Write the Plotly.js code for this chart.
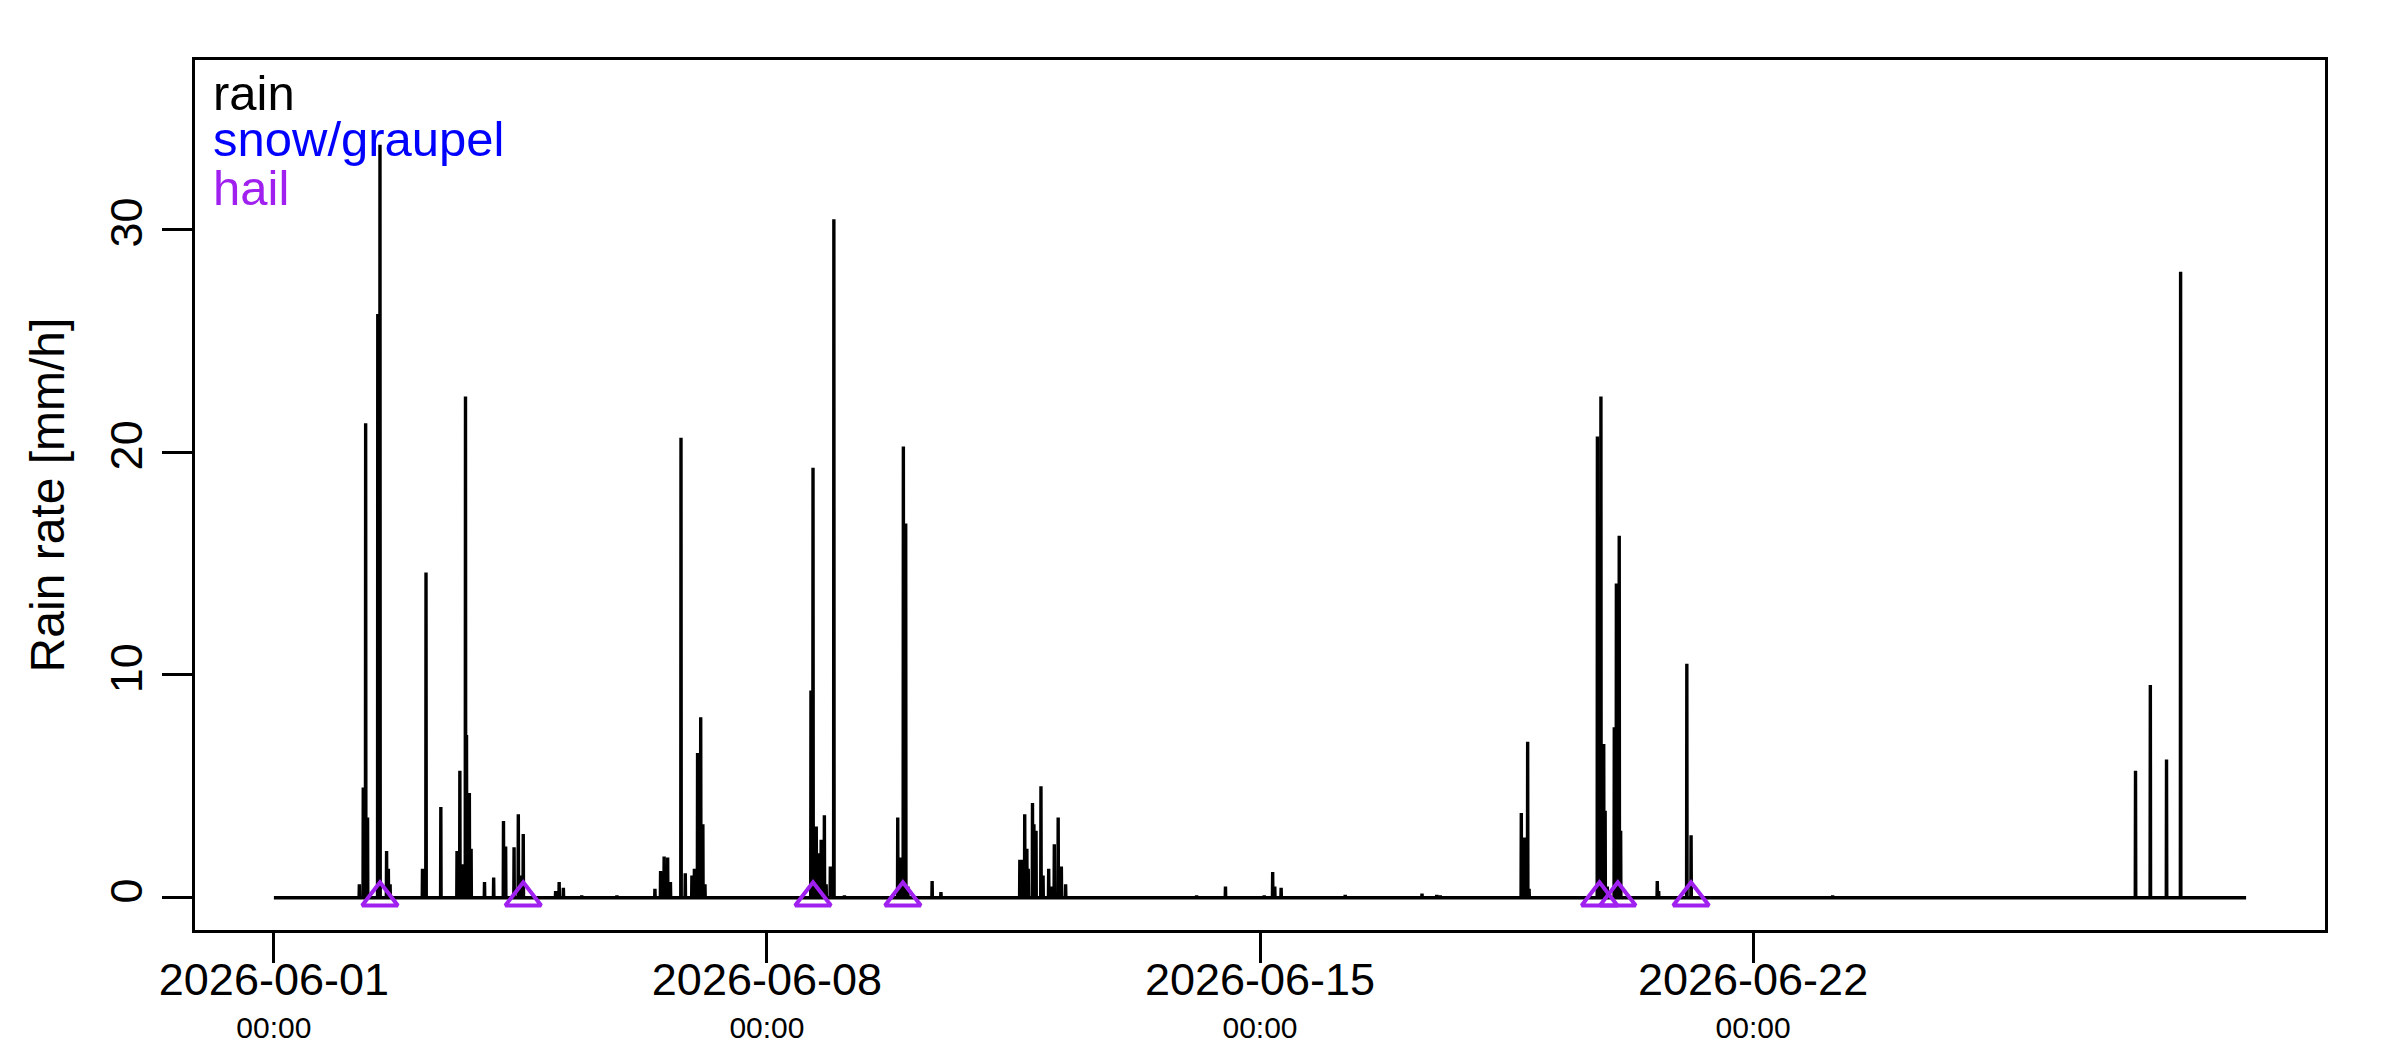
<!DOCTYPE html>
<html>
<head>
<meta charset="utf-8">
<script src="https://cdn.plot.ly/plotly-3.0.1.min.js"></script>
<style>
html,body{margin:0;padding:0;background:#fff;}
#chart{width:2400px;height:1050px;}
</style>
</head>
<body>
<div id="chart"></div>
<script>
// ---- data ----
const rainTime = [
 "2026-06-01 00:00",
 "2026-06-02 05:02","2026-06-02 05:07","2026-06-02 05:12",
 "2026-06-02 06:22","2026-06-02 06:27","2026-06-02 06:32",
 "2026-06-02 07:11","2026-06-02 07:16","2026-06-02 07:21",
 "2026-06-02 07:50","2026-06-02 07:55","2026-06-02 08:00",
 "2026-06-02 11:19","2026-06-02 11:24","2026-06-02 11:29",
 "2026-06-02 12:04","2026-06-02 12:09","2026-06-02 12:14",
 "2026-06-02 14:19","2026-06-02 14:24","2026-06-02 14:29",
 "2026-06-02 14:55","2026-06-02 15:00","2026-06-02 15:05",
 "2026-06-02 15:31","2026-06-02 15:36","2026-06-02 15:41",
 "2026-06-03 02:33","2026-06-03 02:38","2026-06-03 02:43",
 "2026-06-03 03:45","2026-06-03 03:50","2026-06-03 03:55",
 "2026-06-03 08:48","2026-06-03 08:53","2026-06-03 08:58",
 "2026-06-03 14:19","2026-06-03 14:24","2026-06-03 14:29",
 "2026-06-03 15:17","2026-06-03 15:22","2026-06-03 15:27",
 "2026-06-03 16:07","2026-06-03 16:12","2026-06-03 16:17",
 "2026-06-03 17:12","2026-06-03 17:17","2026-06-03 17:22",
 "2026-06-03 17:33","2026-06-03 17:38","2026-06-03 17:43",
 "2026-06-03 18:31","2026-06-03 18:36","2026-06-03 18:41",
 "2026-06-03 19:07","2026-06-03 19:12","2026-06-03 19:17",
 "2026-06-03 23:41","2026-06-03 23:46","2026-06-03 23:51",
 "2026-06-04 02:48","2026-06-04 02:53","2026-06-04 02:58",
 "2026-06-04 06:09","2026-06-04 06:14","2026-06-04 06:19",
 "2026-06-04 06:53","2026-06-04 06:58","2026-06-04 07:03",
 "2026-06-04 09:45","2026-06-04 09:50","2026-06-04 09:55",
 "2026-06-04 11:12","2026-06-04 11:17","2026-06-04 11:22",
 "2026-06-04 11:55","2026-06-04 12:00","2026-06-04 12:05",
 "2026-06-04 12:53","2026-06-04 12:58","2026-06-04 13:03",
 "2026-06-04 23:55","2026-06-05 00:00","2026-06-05 00:05",
 "2026-06-05 01:07","2026-06-05 01:12","2026-06-05 01:17",
 "2026-06-05 02:33","2026-06-05 02:38","2026-06-05 02:43",
 "2026-06-05 08:48","2026-06-05 08:53","2026-06-05 08:58",
 "2026-06-05 20:48","2026-06-05 20:53","2026-06-05 20:58",
 "2026-06-06 09:45","2026-06-06 09:50","2026-06-06 09:55",
 "2026-06-06 11:41","2026-06-06 11:46","2026-06-06 11:51",
 "2026-06-06 12:53","2026-06-06 12:58","2026-06-06 13:03",
 "2026-06-06 14:05","2026-06-06 14:10","2026-06-06 14:15",
 "2026-06-06 15:02","2026-06-06 15:07","2026-06-06 15:12",
 "2026-06-06 18:38","2026-06-06 18:43","2026-06-06 18:48",
 "2026-06-06 20:05","2026-06-06 20:10","2026-06-06 20:15",
 "2026-06-06 22:21","2026-06-06 22:26","2026-06-06 22:31",
 "2026-06-06 23:12","2026-06-06 23:17","2026-06-06 23:22",
 "2026-06-07 00:17","2026-06-07 00:22","2026-06-07 00:27",
 "2026-06-07 01:21","2026-06-07 01:26","2026-06-07 01:31",
 "2026-06-07 02:05","2026-06-07 02:10","2026-06-07 02:15",
 "2026-06-07 02:48","2026-06-07 02:53","2026-06-07 02:58",
 "2026-06-08 14:55","2026-06-08 15:00","2026-06-08 15:05",
 "2026-06-08 15:37","2026-06-08 15:42","2026-06-08 15:47",
 "2026-06-08 16:14","2026-06-08 16:19","2026-06-08 16:24",
 "2026-06-08 16:43","2026-06-08 16:48","2026-06-08 16:53",
 "2026-06-08 17:33","2026-06-08 17:38","2026-06-08 17:43",
 "2026-06-08 18:24","2026-06-08 18:29","2026-06-08 18:34",
 "2026-06-08 19:29","2026-06-08 19:34","2026-06-08 19:39",
 "2026-06-08 20:05","2026-06-08 20:10","2026-06-08 20:15",
 "2026-06-08 21:31","2026-06-08 21:36","2026-06-08 21:41",
 "2026-06-08 22:43","2026-06-08 22:48","2026-06-08 22:53",
 "2026-06-09 02:19","2026-06-09 02:24","2026-06-09 02:29",
 "2026-06-09 20:29","2026-06-09 20:34","2026-06-09 20:39",
 "2026-06-09 21:24","2026-06-09 21:29","2026-06-09 21:34",
 "2026-06-09 22:24","2026-06-09 22:29","2026-06-09 22:34",
 "2026-06-09 23:12","2026-06-09 23:17","2026-06-09 23:22",
 "2026-06-09 23:55","2026-06-10 00:00","2026-06-10 00:05",
 "2026-06-10 08:12","2026-06-10 08:17","2026-06-10 08:22",
 "2026-06-10 11:12","2026-06-10 11:17","2026-06-10 11:22",
 "2026-06-11 14:05","2026-06-11 14:10","2026-06-11 14:15",
 "2026-06-11 14:48","2026-06-11 14:53","2026-06-11 14:58",
 "2026-06-11 15:45","2026-06-11 15:50","2026-06-11 15:55",
 "2026-06-11 16:29","2026-06-11 16:34","2026-06-11 16:39",
 "2026-06-11 16:57","2026-06-11 17:02","2026-06-11 17:07",
 "2026-06-11 18:24","2026-06-11 18:29","2026-06-11 18:34",
 "2026-06-11 18:53","2026-06-11 18:58","2026-06-11 19:03",
 "2026-06-11 19:36","2026-06-11 19:41","2026-06-11 19:46",
 "2026-06-11 21:17","2026-06-11 21:22","2026-06-11 21:27",
 "2026-06-11 22:00","2026-06-11 22:05","2026-06-11 22:10",
 "2026-06-11 23:55","2026-06-12 00:00","2026-06-12 00:05",
 "2026-06-12 00:38","2026-06-12 00:43","2026-06-12 00:48",
 "2026-06-12 01:50","2026-06-12 01:55","2026-06-12 02:00",
 "2026-06-12 03:09","2026-06-12 03:14","2026-06-12 03:19",
 "2026-06-12 04:14","2026-06-12 04:19","2026-06-12 04:24",
 "2026-06-12 05:41","2026-06-12 05:46","2026-06-12 05:51",
 "2026-06-14 02:19","2026-06-14 02:24","2026-06-14 02:29",
 "2026-06-14 12:09","2026-06-14 12:14","2026-06-14 12:19",
 "2026-06-15 01:21","2026-06-15 01:26","2026-06-15 01:31",
 "2026-06-15 04:14","2026-06-15 04:19","2026-06-15 04:24",
 "2026-06-15 04:57","2026-06-15 05:02","2026-06-15 05:07",
 "2026-06-15 07:07","2026-06-15 07:12","2026-06-15 07:17",
 "2026-06-16 04:57","2026-06-16 05:02","2026-06-16 05:07",
 "2026-06-17 07:07","2026-06-17 07:12","2026-06-17 07:17",
 "2026-06-17 12:09","2026-06-17 12:14","2026-06-17 12:19",
 "2026-06-17 13:21","2026-06-17 13:26","2026-06-17 13:31",
 "2026-06-18 16:57","2026-06-18 17:02","2026-06-18 17:07",
 "2026-06-18 17:55","2026-06-18 18:00","2026-06-18 18:05",
 "2026-06-18 19:07","2026-06-18 19:12","2026-06-18 19:17",
 "2026-06-18 19:36","2026-06-18 19:41","2026-06-18 19:46",
 "2026-06-19 18:53","2026-06-19 18:58","2026-06-19 19:03",
 "2026-06-19 20:05","2026-06-19 20:10","2026-06-19 20:15",
 "2026-06-19 21:02","2026-06-19 21:07","2026-06-19 21:12",
 "2026-06-19 21:31","2026-06-19 21:36","2026-06-19 21:41",
 "2026-06-19 22:14","2026-06-19 22:19","2026-06-19 22:24",
 "2026-06-20 00:38","2026-06-20 00:43","2026-06-20 00:48",
 "2026-06-20 01:21","2026-06-20 01:26","2026-06-20 01:31",
 "2026-06-20 02:19","2026-06-20 02:24","2026-06-20 02:29",
 "2026-06-20 02:48","2026-06-20 02:53","2026-06-20 02:58",
 "2026-06-20 15:17","2026-06-20 15:22","2026-06-20 15:27",
 "2026-06-20 15:45","2026-06-20 15:50","2026-06-20 15:55",
 "2026-06-21 01:21","2026-06-21 01:26","2026-06-21 01:31",
 "2026-06-21 02:48","2026-06-21 02:53","2026-06-21 02:58",
 "2026-06-23 03:02","2026-06-23 03:07","2026-06-23 03:12",
 "2026-06-27 10:14","2026-06-27 10:19","2026-06-27 10:24",
 "2026-06-27 15:17","2026-06-27 15:22","2026-06-27 15:27",
 "2026-06-27 20:48","2026-06-27 20:53","2026-06-27 20:58",
 "2026-06-28 01:36","2026-06-28 01:41","2026-06-28 01:46",
 "2026-06-29 00:00"
];
const rainRate = [
 0,
 0,0.6,0,
 0,4.95,0,
 0,21.3,0,
 0,3.6,0,
 0,26.2,0,
 0,33.8,0,
 0,2.1,0,
 0,1.3,0,
 0,0.6,0,
 0,1.3,0,
 0,14.6,0,
 0,4.07,0,
 0,2.1,0,
 0,5.7,0,
 0,1.5,0,
 0,22.5,0,
 0,7.3,0,
 0,4.7,0,
 0,2.2,0,
 0,0.7,0,
 0,0.9,0,
 0,3.44,0,
 0,2.3,0,
 0,2.26,0,
 0,3.75,0,
 0,1.0,0,
 0,2.86,0,
 0,0.3,0,
 0,0.7,0,
 0,0.45,0,
 0,0.1,0,
 0,0.1,0,
 0,0.4,0,
 0,1.2,0,
 0,1.85,0,
 0,1.8,0,
 0,0.7,0,
 0,20.65,0,
 0,1.1,0,
 0,1.0,0,
 0,1.3,0,
 0,6.5,0,
 0,8.1,0,
 0,3.3,0,
 0,0.6,0,
 0,9.3,0,
 0,19.3,0,
 0,3.0,0,
 0,3.2,0,
 0,2.0,0,
 0,2.6,0,
 0,3.7,0,
 0,0.6,0,
 0,1.4,0,
 0,30.45,0,
 0,0.1,0,
 0,3.6,0,
 0,1.8,0,
 0,20.25,0,
 0,16.8,0,
 0,0.5,0,
 0,0.75,0,
 0,0.25,0,
 0,1.7,0,
 0,1.7,0,
 0,3.75,0,
 0,2.2,0,
 0,1.3,0,
 0,4.25,0,
 0,3.3,0,
 0,3.0,0,
 0,5.0,0,
 0,1.0,0,
 0,1.3,0,
 0,0.5,0,
 0,2.4,0,
 0,3.6,0,
 0,1.4,0,
 0,0.6,0,
 0,0.1,0,
 0,0.5,0,
 0,0.1,0,
 0,1.15,0,
 0,0.5,0,
 0,0.45,0,
 0,0.12,0,
 0,0.18,0,
 0,0.12,0,
 0,0.1,0,
 0,3.8,0,
 0,2.7,0,
 0,7.0,0,
 0,0.4,0,
 0,20.7,0,
 0,22.5,0,
 0,6.9,0,
 0,3.9,0,
 0,0.5,0,
 0,7.65,0,
 0,14.1,0,
 0,16.25,0,
 0,3.0,0,
 0,0.75,0,
 0,0.3,0,
 0,10.5,0,
 0,2.8,0,
 0,0.1,0,
 0,5.7,0,
 0,9.55,0,
 0,6.2,0,
 0,28.1,0,
 0
];
const hailTime = [
 "2026-06-02 12:09","2026-06-04 12:58","2026-06-08 15:42","2026-06-09 22:19",
 "2026-06-19 19:41","2026-06-20 01:55","2026-06-21 02:53"
];
const hailRate = [0,0,0,0,0,0,0];

const xTickVals = ["2026-06-01 00:00","2026-06-08 00:00","2026-06-15 00:00","2026-06-22 00:00"];
const xTickDates = ["2026-06-01","2026-06-08","2026-06-15","2026-06-22"];
const xTickTimes = ["00:00","00:00","00:00","00:00"];
const yTickVals = [0,10,20,30];
const xRange = ["2026-05-30 21:07:12","2026-06-30 02:52:48"];
const yRange = [-1.45,37.6];
const legendLabels = ["rain","snow/graupel","hail"];
const legendColors = ["#000000","#0000FF","#A020F0"];

// ---- chart ----
const FONT = "Liberation Sans, Arial, Helvetica, sans-serif";

const traces = [
 {type:'scatter', mode:'lines', x:rainTime, y:rainRate, name:'rain',
  line:{color:'#000000', width:3.4}, hoverinfo:'x+y'},
 {type:'scatter', mode:'markers', x:hailTime, y:hailRate, name:'hail',
  marker:{symbol:'triangle-up-open', size:31, color:legendColors[2], line:{width:4, color:legendColors[2]}}},
 // carrier for the secondary (time-of-day) tick row
 {type:'scatter', mode:'markers', x:xTickVals, y:[null,null,null,null], xaxis:'x2', yaxis:'y',
  marker:{opacity:0}, hoverinfo:'skip', showlegend:false}
];

// plot area: top 60, height 870
const legendCenterPx = [93,139,188];
const annotations = legendLabels.map((t,i)=>({
  text:t, xref:'paper', yref:'paper', x:0.0075, xanchor:'left',
  y:1-(legendCenterPx[i]-60)/870, yanchor:'middle', showarrow:false,
  font:{family:FONT, size:49, color:legendColors[i]}
}));

const layout = {
  width:2400, height:1050,
  margin:{l:195, r:75, t:60, b:120, pad:0},
  paper_bgcolor:'#ffffff', plot_bgcolor:'#ffffff',
  showlegend:false,
  font:{family:FONT, color:'#000000', size:45},
  xaxis:{
    type:'date', range:xRange, tickmode:'array', tickvals:xTickVals, ticktext:xTickDates,
    ticks:'outside', ticklen:30, tickwidth:3, tickcolor:'#000000',
    showline:true, linewidth:3, linecolor:'#000000', mirror:true,
    showgrid:false, zeroline:false, automargin:false,
    ticklabelstandoff:-22,
    tickfont:{family:FONT, size:45, color:'#000000'}
  },
  xaxis2:{
    type:'date', range:xRange, tickmode:'array', tickvals:xTickVals, ticktext:xTickTimes,
    overlaying:'x', anchor:'y', side:'bottom',
    ticks:'', showline:false, showgrid:false, zeroline:false, automargin:false,
    ticklabelstandoff:77,
    tickfont:{family:FONT, size:30, color:'#000000'}
  },
  yaxis:{
    range:yRange, tickmode:'array', tickvals:yTickVals,
    ticks:'outside', ticklen:30, tickwidth:3, tickcolor:'#000000',
    showline:true, linewidth:3, linecolor:'#000000', mirror:true,
    showgrid:false, zeroline:false, automargin:false, tickangle:-90,
    ticklabelstandoff:2,
    tickfont:{family:FONT, size:45, color:'#000000'},
    title:{text:'Rain rate [mm/h]', font:{family:FONT, size:48, color:'#000000'}, standoff:22}
  },
  annotations:annotations
};

Plotly.newPlot('chart', traces, layout, {staticPlot:true, displayModeBar:false});
</script>
</body>
</html>
